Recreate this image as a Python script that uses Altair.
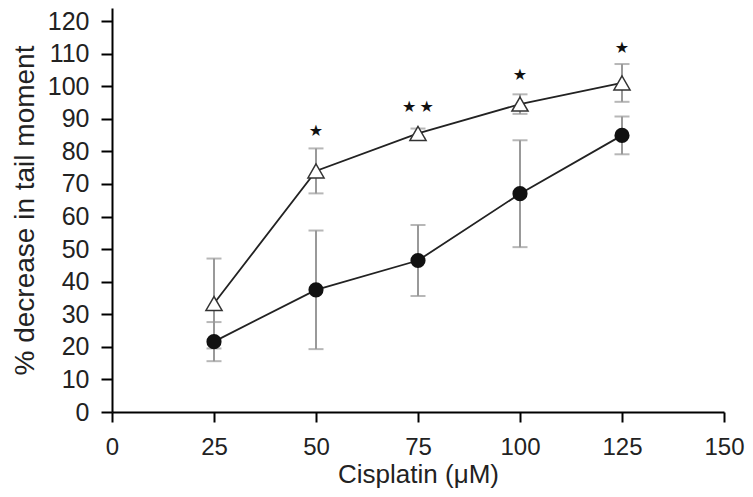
import altair as alt
import pandas as pd

conc = [25, 50, 75, 100, 125]
cis_mean = [21.6, 37.5, 46.5, 67.0, 84.9]
cis_err = [6.0, 18.2, 10.9, 16.4, 5.8]
comb_mean = [33.3, 74.0, 85.5, 94.5, 101.0]
comb_err = [13.8, 6.9, 1.5, 3.0, 5.8]
star_conc = [50, 75, 100, 125]
star_text = ["★", "★\u2009★", "★", "★"]
star_y = [86.2, 93.5, 103.3, 111.7]
x_ticks = [0, 25, 50, 75, 100, 125, 150]
y_ticks = [0, 10, 20, 30, 40, 50, 60, 70, 80, 90, 100, 110, 120]

rows = []
for c, m, e in zip(conc, cis_mean, cis_err):
    rows.append({"conc": c, "mean": m, "lo": m - e, "hi": m + e, "group": "cis"})
for c, m, e in zip(conc, comb_mean, comb_err):
    rows.append({"conc": c, "mean": m, "lo": m - e, "hi": m + e, "group": "comb"})
df = pd.DataFrame(rows)
stars = pd.DataFrame({"conc": star_conc, "t": star_text, "y": star_y})

font = "Liberation Sans"
xs = alt.Scale(domain=[0, 150], nice=False, zero=False)
ys = alt.Scale(domain=[0, 124], nice=False)

xa = alt.Axis(
    values=x_ticks, title="Cisplatin (μM)", grid=False, domainWidth=2, domainColor="black",
    tickColor="black", tickWidth=2, tickSize=10, labelFontSize=24, labelFont=font,
    labelColor="#222", labelPadding=13, labelOverlap=False, titleFont=font, titleFontSize=26,
    titleFontWeight="normal", titleColor="#222", titlePadding=2, labelFlush=False)
ya = alt.Axis(
    values=y_ticks, title="% decrease in tail moment", grid=False, domainWidth=2,
    domainColor="black", tickColor="black", tickWidth=2, tickSize=11, labelFontSize=25,
    labelFont=font, labelColor="#222", labelPadding=12, labelOverlap=False,
    titleFont=font, titleFontSize=28, titleFontWeight="normal", titleColor="#222",
    titlePadding=8)


def X():
    return alt.X("conc:Q", scale=xs, axis=xa)


def Y(field):
    return alt.Y(field, scale=ys, axis=ya)


lines = alt.Chart(df).mark_line(color="#222", strokeWidth=1.8).encode(
    x=X(), y=Y("mean:Q"), detail="group:N")
bars = alt.Chart(df).mark_rule(color="#999", strokeWidth=2).encode(
    x=X(), y=Y("lo:Q"), y2="hi:Q")
cap_lo = alt.Chart(df).mark_tick(color="#999", orient="horizontal", size=15, thickness=2).encode(
    x=X(), y=Y("lo:Q"))
cap_hi = alt.Chart(df).mark_tick(color="#999", orient="horizontal", size=15, thickness=2).encode(
    x=X(), y=Y("hi:Q"))
circ = alt.Chart(df[df.group == "cis"]).mark_point(
    shape="circle", filled=True, size=230, color="#111", opacity=1).encode(
    x=X(), y=Y("mean:Q"))
tri = alt.Chart(df[df.group == "comb"]).mark_point(
    shape="triangle-up", filled=True, size=260, fill="white", stroke="#333",
    strokeWidth=1.5, opacity=1).encode(x=X(), y=Y("mean:Q"))
txt = alt.Chart(stars).mark_text(font="DejaVu Sans", fontSize=16, color="#111",
                                 baseline="middle").encode(
    x=X(), y=Y("y:Q"), text="t:N")

chart = alt.layer(bars, cap_lo, cap_hi, lines, circ, tri, txt).properties(
    width=612, height=404,
    autosize=alt.AutoSizeParams(type="none"),
    padding={"left": 104, "top": 0, "right": 21, "bottom": 77},
).configure(background="white").configure_view(strokeWidth=0, strokeOpacity=0)

chart.save("out.html", embed_options={"renderer": "svg", "actions": False})
